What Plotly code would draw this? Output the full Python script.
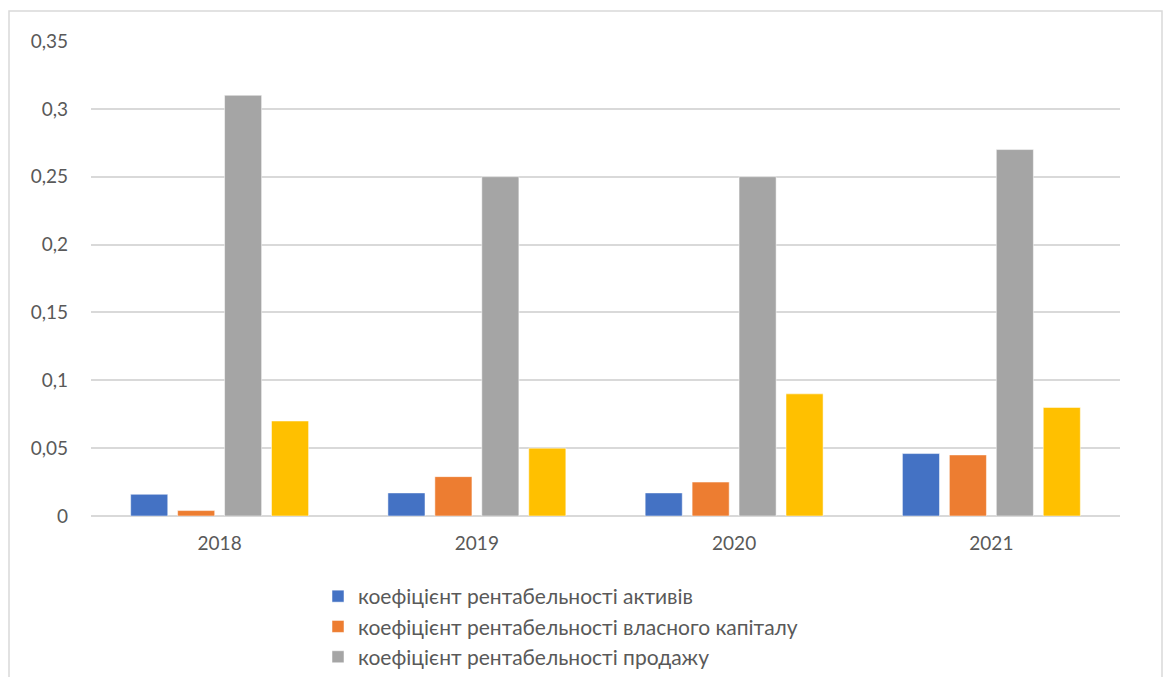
import plotly.graph_objects as go

years = ["2018", "2019", "2020", "2021"]
series_names = [
    "коефіцієнт рентабельності активів",
    "коефіцієнт рентабельності власного капіталу",
    "коефіцієнт рентабельності продажу",
    "коефіцієнт рентабельності діяльності",
]
roa = [0.016, 0.017, 0.017, 0.046]
roe = [0.004, 0.029, 0.025, 0.045]
ros = [0.31, 0.25, 0.25, 0.27]
rop = [0.07, 0.05, 0.09, 0.08]
colors = ["#4472C4", "#ED7D31", "#A5A5A5", "#FFC000"]
in_legend = [True, True, True, False]

y_ticks = [0, 0.05, 0.1, 0.15, 0.2, 0.25, 0.3, 0.35]
y_tick_labels = ["0", "0,05", "0,1", "0,15", "0,2", "0,25", "0,3", "0,35"]

W, H = 1165, 677
L, R, T, B = 91, 1120, 41, 516
font_family = "Lato, 'Open Sans', sans-serif"
text_color = "#595959"

fig = go.Figure()
for name, vals, col, show in zip(series_names, [roa, roe, ros, rop], colors, in_legend):
    fig.add_trace(go.Bar(
        x=years, y=vals, name=name, showlegend=show,
        marker=dict(color=col, line=dict(color="rgba(255,255,255,0.5)", width=1)),
    ))

pw, ph = R - L, B - T
# outer chart frame
fig.add_shape(
    type="rect", xref="paper", yref="paper", layer="below",
    x0=(9 - L) / pw, x1=(1162 - L) / pw,
    y0=(B - 720) / ph, y1=(B - 11) / ph,
    line=dict(color="#d9d9d9", width=1.5), fillcolor="rgba(0,0,0,0)",
)

fig.update_layout(
    width=W, height=H,
    margin=dict(l=L, r=W - R, t=T, b=H - B, pad=0, autoexpand=False),
    paper_bgcolor="white", plot_bgcolor="white",
    barmode="group", bargap=0.27, bargroupgap=0.21,
    font=dict(family=font_family, color=text_color, size=19),
    showlegend=True,
    legend=dict(
        xref="container", yref="container",
        x=318 / W, y=1 - 576 / H, xanchor="left", yanchor="top",
        orientation="v", font=dict(size=21, color=text_color),
        itemwidth=30, tracegroupgap=0, bgcolor="rgba(0,0,0,0)",
    ),
    xaxis=dict(
        showgrid=False, zeroline=False, showline=False, ticks="",
        tickfont=dict(size=19, color=text_color), ticklabelstandoff=14,
    ),
    yaxis=dict(
        range=[0, 0.35], tickvals=y_ticks, ticktext=y_tick_labels,
        showgrid=True, gridcolor="#d9d9d9", gridwidth=1.5,
        zeroline=True, zerolinecolor="#d9d9d9", zerolinewidth=1.5,
        showline=False, ticks="", ticklabelstandoff=22,
        tickfont=dict(size=19, color=text_color),
    ),
)

fig.write_html("out.html")
